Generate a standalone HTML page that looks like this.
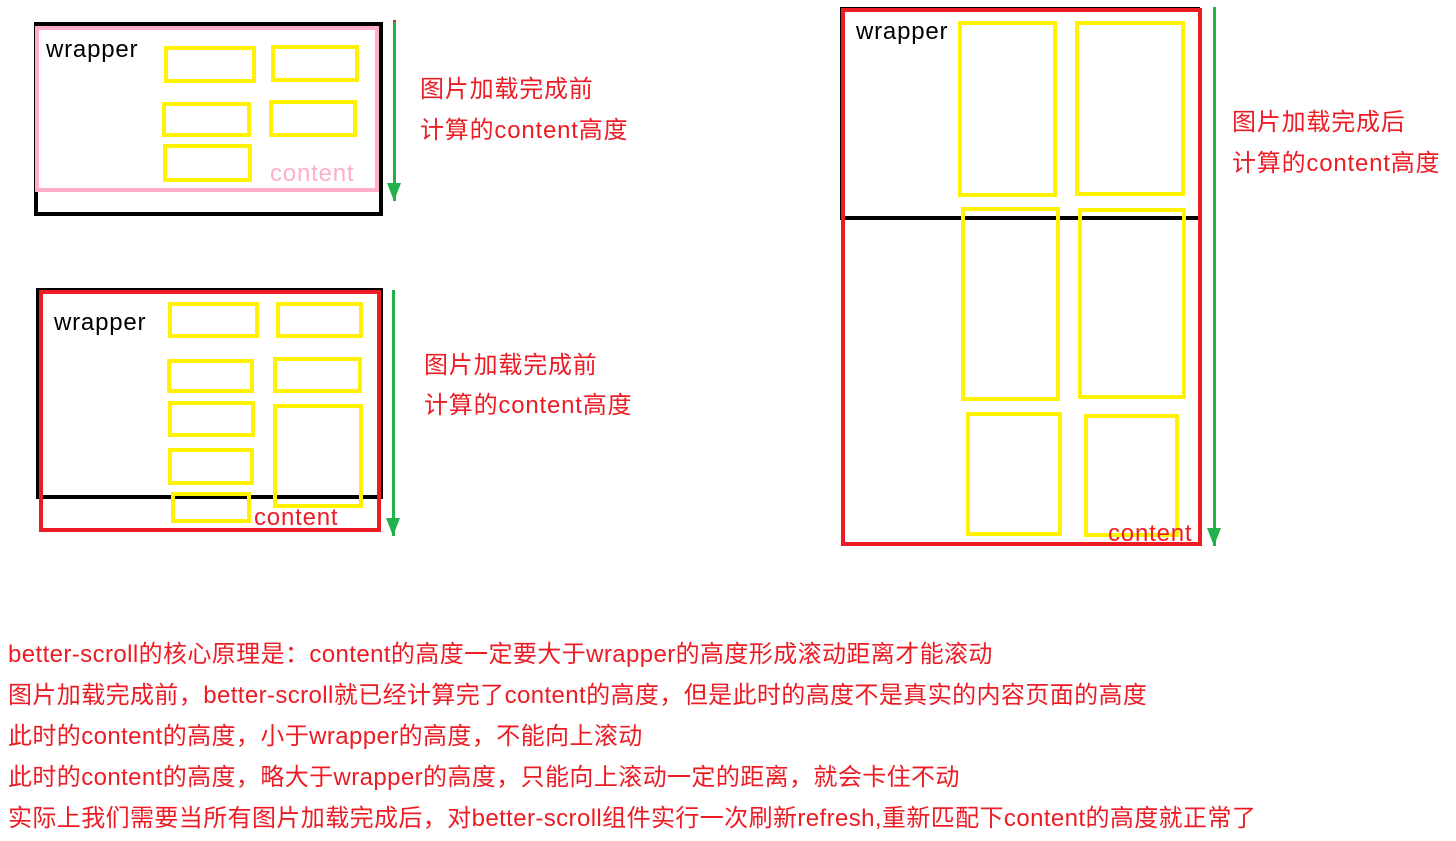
<!DOCTYPE html>
<html><head><meta charset="utf-8"><style>
body{margin:0;width:1456px;height:841px;background:#fff;position:relative;overflow:hidden;font-family:"Liberation Sans","Noto Sans CJK SC",sans-serif}
.b{position:absolute;box-sizing:border-box}
.y{position:absolute;box-sizing:border-box;border:4px solid #fff200}
.t{position:absolute;white-space:nowrap;line-height:1;font-size:24px;letter-spacing:0.8px}
.r{color:#ed1c24}
.arr{position:absolute;width:3px;background:#22b14c}
.arr:after{content:"";position:absolute;left:-6px;bottom:0;border-left:7.5px solid transparent;border-right:7.5px solid transparent;border-top:18px solid #22b14c}
.txt{position:absolute;left:8px;font-size:24px;letter-spacing:0.4px;color:#ed1c24;white-space:nowrap;line-height:1}
</style></head><body>

<!-- diagram 1 -->
<div class="b" style="left:34px;top:22px;width:349px;height:194px;border:4px solid #000"></div>
<div class="b" style="left:35px;top:26px;width:344px;height:166px;border:4px solid #ffaec9"></div>
<div class="t" style="left:46px;top:38px;color:#000">wrapper</div>
<div class="y" style="left:164px;top:46px;width:92px;height:37px"></div>
<div class="y" style="left:271px;top:45px;width:88px;height:37px"></div>
<div class="y" style="left:162px;top:102px;width:89px;height:35px"></div>
<div class="y" style="left:269px;top:100px;width:88px;height:37px"></div>
<div class="y" style="left:163px;top:144px;width:89px;height:38px"></div>
<div class="t" style="left:270px;top:162px;color:#ffaec9">content</div>
<div class="arr" style="left:393px;top:20px;height:179px;border-top:2px solid #ed1c24"></div>
<div class="t r" style="left:420px;top:78px">图片加载完成前</div>
<div class="t r" style="left:420px;top:119px">计算的content高度</div>

<!-- diagram 2 -->
<div class="b" style="left:36px;top:288px;width:347px;height:211px;border:4px solid #000"></div>
<div class="b" style="left:39px;top:290px;width:342px;height:242px;border:4px solid #ed1c24"></div>
<div class="t" style="left:54px;top:311px;color:#000">wrapper</div>
<div class="y" style="left:168px;top:302px;width:91px;height:36px"></div>
<div class="y" style="left:276px;top:302px;width:87px;height:36px"></div>
<div class="y" style="left:167px;top:359px;width:87px;height:34px"></div>
<div class="y" style="left:273px;top:357px;width:89px;height:36px"></div>
<div class="y" style="left:168px;top:401px;width:87px;height:36px"></div>
<div class="y" style="left:168px;top:448px;width:86px;height:37px"></div>
<div class="y" style="left:273px;top:404px;width:90px;height:104px"></div>
<div class="y" style="left:171px;top:492px;width:80px;height:31px"></div>
<div class="t r" style="left:254px;top:506px">content</div>
<div class="arr" style="left:392px;top:290px;height:246px"></div>
<div class="t r" style="left:424px;top:354px">图片加载完成前</div>
<div class="t r" style="left:424px;top:394px">计算的content高度</div>

<!-- diagram 3 -->
<div class="b" style="left:840px;top:7px;width:360px;height:213px;border-top:2px solid #000;border-left:2px solid #000;border-bottom:4px solid #000"></div>
<div class="b" style="left:841px;top:8px;width:361px;height:538px;border:4px solid #ed1c24"></div>
<div class="t" style="left:856px;top:20px;color:#000">wrapper</div>
<div class="y" style="left:958px;top:21px;width:99px;height:176px"></div>
<div class="y" style="left:1075px;top:21px;width:110px;height:175px"></div>
<div class="y" style="left:961px;top:207px;width:99px;height:194px"></div>
<div class="y" style="left:1078px;top:208px;width:108px;height:191px"></div>
<div class="y" style="left:966px;top:412px;width:96px;height:124px"></div>
<div class="y" style="left:1084px;top:414px;width:95px;height:123px"></div>
<div class="t r" style="left:1108px;top:522px">content</div>
<div class="arr" style="left:1213px;top:7px;height:539px"></div>
<div class="t r" style="left:1232px;top:111px">图片加载完成后</div>
<div class="t r" style="left:1232px;top:152px">计算的content高度</div>

<!-- text -->
<div class="txt" style="top:643px">better-scroll的核心原理是：content的高度一定要大于wrapper的高度形成滚动距离才能滚动</div>
<div class="txt" style="top:684px">图片加载完成前，better-scroll就已经计算完了content的高度，但是此时的高度不是真实的内容页面的高度</div>
<div class="txt" style="top:725px">此时的content的高度，小于wrapper的高度，不能向上滚动</div>
<div class="txt" style="top:766px">此时的content的高度，略大于wrapper的高度，只能向上滚动一定的距离，就会卡住不动</div>
<div class="txt" style="top:807px">实际上我们需要当所有图片加载完成后，对better-scroll组件实行一次刷新refresh,重新匹配下content的高度就正常了</div>
</body></html>
